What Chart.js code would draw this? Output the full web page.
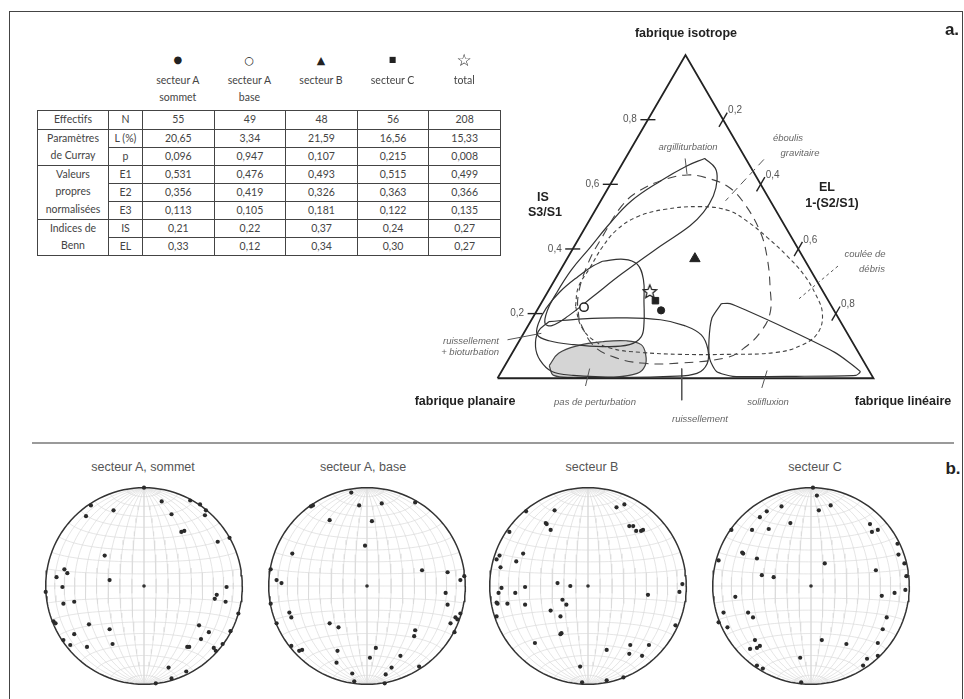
<!DOCTYPE html>
<html lang="fr">
<head>
<meta charset="utf-8">
<title>Fabriques - diagramme de Benn</title>
<script src="https://cdn.jsdelivr.net/npm/chart.js@4.4.1/dist/chart.umd.min.js"></script>
<style>
  body { margin: 0; background: #fff; }
  #page { position: relative; width: 964px; height: 699px; overflow: hidden; font-family: "Liberation Sans", Arial, sans-serif; color: #333; }
  #cadre { position: absolute; left: 9px; top: 11px; width: 952px; height: 700px; border: 1px solid #444; border-bottom: none; }
  #sep { position: absolute; left: 32px; top: 442px; width: 922px; height: 2px; background: #9a9a9a; }
  canvas { position: absolute; }
  .t { position: absolute; white-space: nowrap; transform: translate(-50%, -50%); line-height: 1; z-index: 2; }
  .t.r { transform: translate(-100%, -50%); }
  .vx { font-weight: bold; font-size: 12.5px; color: #222; }
  .champ { font-style: italic; font-size: 9.5px; color: #666; }
  .panneau { font-weight: bold; font-size: 17px; color: #222; }
  .titre { font-size: 12.5px; color: #555; }
  .leg { font-family: Lato, "Liberation Sans", sans-serif; font-size: 10.5px; color: #444; }
  .sym { font-family: "DejaVu Sans", sans-serif; color: #222; }
  table { position: absolute; left: 37px; top: 110px; border-collapse: collapse; font-family: Lato, "Liberation Sans", sans-serif; font-size: 10.5px; color: #444; table-layout: fixed; }
  td { border: 1.5px solid #444; text-align: center; padding: 0; height: 16.9px; line-height: 16.9px; }
  td.groupe { line-height: 17.6px; }
</style>
</head>
<body>
<div id="page">
  <div id="cadre"></div>
  <div id="sep"></div>
  <table id="tab"></table>
  <canvas id="ternaire" width="580" height="440" style="left:380px;top:0px"></canvas>
  <canvas id="net1" width="220" height="220" style="left:34px;top:476px"></canvas>
  <canvas id="net2" width="220" height="220" style="left:257px;top:476px"></canvas>
  <canvas id="net3" width="220" height="220" style="left:478px;top:476px"></canvas>
  <canvas id="net4" width="220" height="220" style="left:701px;top:476px"></canvas>
</div>
<script>
// ---- données du tableau ----
const secteurs = ['secteur A\nsommet', 'secteur A\nbase', 'secteur B', 'secteur C', 'total'];
const effectifs = [55, 49, 48, 56, 208];
const currayL = [20.65, 3.34, 21.59, 16.56, 15.33];
const currayP = [0.096, 0.947, 0.107, 0.215, 0.008];
const e1 = [0.531, 0.476, 0.493, 0.515, 0.499];
const e2 = [0.356, 0.419, 0.326, 0.363, 0.366];
const e3 = [0.113, 0.105, 0.181, 0.122, 0.135];
const indiceIS = [0.21, 0.22, 0.37, 0.24, 0.27];
const indiceEL = [0.33, 0.12, 0.34, 0.30, 0.27];
const ternTicks = [0.2, 0.4, 0.6, 0.8];

// ---- champs du diagramme de Benn, en [IS, EL] ----
const argilliturbation = [[0.680,0.211],[0.650,0.254],[0.614,0.277],[0.564,0.292],[0.513,0.291],[0.472,0.276],[0.409,0.229],[0.323,0.169],[0.252,0.127],[0.193,0.092],[0.163,0.063],[0.169,0.042],[0.208,0.028],[0.261,0.025],[0.335,0.029],[0.404,0.044],[0.478,0.059],[0.549,0.082],[0.611,0.129],[0.656,0.174]];
const ruissBioturb = [[0.362,0.098],[0.368,0.152],[0.353,0.195],[0.306,0.235],[0.237,0.271],[0.169,0.305],[0.128,0.318],[0.104,0.299],[0.098,0.230],[0.104,0.149],[0.116,0.079],[0.134,0.039],[0.169,0.024],[0.217,0.021],[0.267,0.032],[0.315,0.057],[0.347,0.080]];
const ruissellement = [[0.175,0.049],[0.184,0.135],[0.187,0.237],[0.181,0.343],[0.163,0.416],[0.134,0.475],[0.089,0.515],[0.045,0.535],[0.015,0.523],[0.006,0.456],[0.003,0.328],[0.009,0.197],[0.021,0.134],[0.056,0.085],[0.098,0.052],[0.145,0.036]];
const pasPerturbation = [[0.039,0.118],[0.077,0.124],[0.101,0.164],[0.113,0.222],[0.116,0.285],[0.104,0.330],[0.074,0.357],[0.039,0.373],[0.015,0.364],[0.003,0.303],[0.003,0.212],[0.009,0.145]];
const solifluxion = [[0.231,0.480],[0.187,0.477],[0.119,0.503],[0.059,0.535],[0.021,0.572],[0.006,0.623],[0.006,0.791],[0.009,0.949],[0.021,0.954],[0.080,0.857],[0.154,0.691],[0.208,0.562],[0.231,0.503]];
const couleeDebris = [[0.223,0.096],[0.282,0.074],[0.341,0.075],[0.407,0.076],[0.460,0.088],[0.499,0.121],[0.522,0.181],[0.531,0.272],[0.519,0.355],[0.484,0.424],[0.436,0.499],[0.380,0.579],[0.320,0.655],[0.261,0.715],[0.202,0.763],[0.142,0.782],[0.104,0.760],[0.080,0.702],[0.074,0.577],[0.074,0.448],[0.080,0.341],[0.092,0.258],[0.119,0.194],[0.163,0.140]];
const eboulis = [[0.178,0.128],[0.252,0.088],[0.356,0.063],[0.439,0.060],[0.534,0.064],[0.579,0.086],[0.614,0.135],[0.629,0.190],[0.620,0.246],[0.591,0.320],[0.537,0.390],[0.451,0.474],[0.371,0.532],[0.282,0.584],[0.202,0.624],[0.142,0.628],[0.095,0.610],[0.065,0.581],[0.047,0.461],[0.047,0.358],[0.068,0.270],[0.104,0.201]];
// traits de rappel des étiquettes
const rappels = [
  [[0.677,0.370],[0.549,0.332]],
  [[0.347,0.732],[0.246,0.679]],
  [[0.680,0.159],[0.632,0.188]],
  [[0.119,-0.033],[0.139,0.047]],
  [[0.030,0.230],[-0.024,0.246]],
  [[0.030,0.475],[-0.068,0.524]],
  [[0.024,0.705],[-0.030,0.718]]
];

// ---- stéréogrammes (projection normalisée, rayon 1) ----
const netSommet = [[0.00,1.00],[-0.54,0.82],[-0.31,0.77],[-0.59,0.71],[0.18,0.86],[0.28,0.73],[0.47,0.87],[0.57,0.83],[0.63,0.77],[0.62,0.72],[0.38,0.55],[0.41,0.56],[0.75,0.45],[0.87,0.49],[-0.40,0.31],[-0.81,0.17],[-0.78,0.13],[-0.89,0.09],[-0.83,-0.01],[-1.00,-0.06],[-0.82,-0.18],[-0.71,-0.16],[-0.35,0.06],[0.84,-0.01],[0.74,-0.09],[0.72,-0.13],[0.83,-0.16],[0.96,-0.28],[-0.92,-0.36],[-0.90,-0.38],[-0.56,-0.39],[-0.71,-0.49],[-0.35,-0.44],[-0.82,-0.55],[-0.75,-0.60],[-0.58,-0.62],[-0.32,-0.59],[0.56,-0.40],[0.66,-0.47],[0.58,-0.54],[0.88,-0.46],[0.44,-0.62],[0.46,-0.62],[0.71,-0.63],[0.73,-0.66],[0.80,-0.59],[0.25,-0.83],[0.43,-0.87],[0.28,-0.94],[0.12,-0.99]];
const netBase = [[-0.16,0.95],[-0.08,0.82],[0.15,0.84],[0.49,0.85],[-0.57,0.81],[-0.55,0.82],[-0.38,0.67],[0.05,0.66],[-0.02,0.41],[-0.76,0.33],[0.56,0.16],[0.82,0.14],[0.99,0.10],[0.95,0.06],[-0.92,0.06],[-0.87,0.03],[-0.98,0.17],[0.80,-0.07],[0.82,-0.19],[-0.98,-0.18],[-0.79,-0.27],[-0.77,-0.32],[-0.92,-0.38],[-0.38,-0.38],[-0.29,-0.42],[0.95,-0.28],[0.90,-0.32],[0.92,-0.34],[0.85,-0.38],[0.89,-0.47],[0.49,-0.45],[0.48,-0.51],[-0.77,-0.61],[-0.69,-0.66],[-0.66,-0.65],[-0.30,-0.66],[0.09,-0.63],[0.03,-0.73],[-0.31,-0.78],[0.34,-0.71],[0.25,-0.83],[0.53,-0.82],[-0.15,-0.89],[0.19,-0.90],[-0.13,-0.97],[0.18,-0.99]];
const netB = [[-0.34,0.77],[-0.63,0.76],[0.29,0.80],[0.37,0.83],[-0.43,0.64],[-0.42,0.63],[-0.38,0.57],[0.42,0.61],[0.46,0.61],[0.49,0.56],[0.54,0.56],[0.56,0.57],[-0.80,0.55],[-0.66,0.33],[-0.90,0.31],[-0.73,0.25],[-0.89,0.19],[-0.93,0.27],[-0.31,0.03],[-0.18,0.00],[-0.64,-0.01],[-0.88,-0.02],[-0.91,-0.07],[-0.74,-0.07],[-0.93,-0.17],[-0.92,-0.18],[-0.82,-0.18],[-0.64,-0.19],[-0.26,-0.14],[-0.22,-0.19],[-0.93,-0.31],[-0.38,-0.25],[-0.28,-0.31],[-0.27,-0.48],[-0.28,-0.49],[-0.54,-0.58],[0.61,-0.09],[0.96,0.02],[0.93,-0.06],[0.89,-0.40],[0.43,-0.60],[0.62,-0.60],[0.19,-0.65],[0.42,-0.69],[0.55,-0.71],[-0.08,-0.82],[-0.06,-0.98],[0.19,-0.96],[0.36,-0.93]];
const netC = [[0.02,1.00],[0.06,0.92],[0.20,0.82],[0.08,0.77],[-0.30,0.81],[-0.45,0.76],[-0.52,0.70],[-0.21,0.64],[-0.43,0.58],[-0.60,0.57],[-0.81,0.57],[0.60,0.63],[0.62,0.55],[0.68,0.57],[-0.70,0.34],[-0.69,0.33],[-0.55,0.28],[-0.94,0.26],[0.88,0.43],[0.89,0.32],[0.95,0.23],[0.97,0.10],[0.96,-0.04],[0.14,0.23],[0.66,0.16],[-0.50,0.11],[-0.38,0.09],[0.85,-0.07],[0.72,-0.10],[-0.77,-0.11],[-0.89,-0.27],[-0.64,-0.27],[-0.59,-0.32],[-0.85,-0.42],[-0.94,-0.37],[0.77,-0.32],[0.73,-0.44],[0.68,-0.58],[0.11,-0.55],[0.36,-0.59],[-0.57,-0.55],[-0.62,-0.64],[-0.55,-0.63],[-0.52,-0.61],[0.57,-0.74],[0.68,-0.71],[0.53,-0.81],[-0.11,-0.73],[-0.55,-0.81],[-0.49,-0.84],[-0.10,-0.98]];
const nets = [['secteur A, sommet', netSommet], ['secteur A, base', netBase], ['secteur B', netB], ['secteur C', netC]];

// format français
const fr = (v, d) => v.toFixed(d).replace('.', ',');
const page = document.getElementById('page');

function texte(txt, x, y, cls) {
  const d = document.createElement('div');
  d.className = 't ' + cls;
  d.style.left = x + 'px';
  d.style.top = y + 'px';
  d.textContent = txt;
  page.appendChild(d);
}

// ---- tableau ----
const lignes = [
  {groupe: ['Effectifs'], sous: ['N'], vals: [effectifs.map(String)]},
  {groupe: ['Paramètres', 'de Curray'], sous: ['L (%)', 'p'], vals: [currayL.map(v => fr(v, 2)), currayP.map(v => fr(v, 3))]},
  {groupe: ['Valeurs', 'propres', 'normalisées'], sous: ['E1', 'E2', 'E3'], vals: [e1, e2, e3].map(a => a.map(v => fr(v, 3)))},
  {groupe: ['Indices de', 'Benn'], sous: ['IS', 'EL'], vals: [indiceIS, indiceEL].map(a => a.map(v => fr(v, 2)))}
];
let html = '<colgroup><col style="width:71px"><col style="width:34px">' + '<col style="width:71.6px">'.repeat(5) + '</colgroup>';
lignes.forEach(l => {
  l.sous.forEach((s, k) => {
    html += '<tr>';
    if (k === 0) html += '<td class="groupe" rowspan="' + l.sous.length + '">' + l.groupe.join('<br>') + '</td>';
    html += '<td>' + s + '</td>' + l.vals[k].map(v => '<td>' + v + '</td>').join('') + '</tr>';
  });
});
document.getElementById('tab').innerHTML = html;

// ---- légende au-dessus du tableau ----
const colX = [177.8, 249.4, 321, 392.6, 464.2];
const symboles = [['●', 10], ['○', 11], ['▲', 11], ['■', 8], ['☆', 17]];
secteurs.forEach((s, i) => {
  texte(symboles[i][0], colX[i], 60, 'sym');
  page.lastChild.style.fontSize = symboles[i][1] + 'px';
  s.split('\n').forEach((ligne, k) => texte(ligne, colX[i], 80 + k * 17, 'leg'));
});

// ---- diagramme ternaire ----
const tern = ([is, el]) => ({x: el + is / 2, y: is});
const boucle = pts => pts.concat([pts[0]]).map(tern);

function etoile(size) {
  const c = document.createElement('canvas');
  c.width = c.height = size;
  const g = c.getContext('2d');
  const m = size / 2, R = size / 2 - 1, r = R * 0.45;
  g.beginPath();
  for (let i = 0; i < 10; i++) {
    const a = -Math.PI / 2 + i * Math.PI / 5, rr = i % 2 ? r : R;
    g.lineTo(m + rr * Math.cos(a), m + 1 + rr * Math.sin(a));
  }
  g.closePath();
  g.fillStyle = '#fff';
  g.fill();
  g.lineWidth = 1.3;
  g.strokeStyle = '#222';
  g.stroke();
  return c;
}

const marqueurs = [
  {pointStyle: 'circle', pointRadius: 3.6, backgroundColor: '#222', borderColor: '#222'},
  {pointStyle: 'circle', pointRadius: 4.2, backgroundColor: '#fff', borderColor: '#222', borderWidth: 1.5},
  {pointStyle: 'triangle', pointRadius: 6, backgroundColor: '#222', borderColor: '#222'},
  {pointStyle: 'rect', pointRadius: 4.6, backgroundColor: '#222', borderColor: '#222'},
  {pointStyle: etoile(16), pointRadius: 8}
];

const ternDatasets = [];
secteurs.forEach((s, i) => {
  ternDatasets.push(Object.assign({label: s, data: [tern([indiceIS[i], indiceEL[i]])], showLine: false, order: 0}, marqueurs[i]));
});
const trait = (data, extra) => Object.assign({data, showLine: true, pointRadius: 0, borderColor: '#333', borderWidth: 1.2, tension: 0.4, order: 1}, extra || {});
ternDatasets.push(trait(boucle(argilliturbation)));
ternDatasets.push(trait(boucle(ruissBioturb)));
ternDatasets.push(trait(boucle(ruissellement)));
ternDatasets.push(trait(boucle(solifluxion), {tension: 0.2}));
ternDatasets.push(trait(boucle(couleeDebris), {borderDash: [4, 3], borderWidth: 1.1, borderColor: '#444'}));
ternDatasets.push(trait(boucle(eboulis), {borderDash: [9, 6], borderWidth: 1.1, borderColor: '#444'}));
ternDatasets.push(trait(boucle(pasPerturbation), {fill: 'shape', backgroundColor: '#d5d5d5', borderColor: '#444', order: 5}));
// triangle et graduations
ternDatasets.push(trait([[0, 0], [1, 0], [0, 1], [0, 0]].map(tern), {tension: 0, borderWidth: 1.8, borderColor: '#222', order: 2}));
ternTicks.forEach(t => {
  ternDatasets.push(trait([[t, -0.02], [t, 0.02]].map(tern), {tension: 0, borderWidth: 1.4, borderColor: '#222'}));
  ternDatasets.push(trait([[1 - t - 0.022, t], [1 - t + 0.022, t]].map(tern), {tension: 0, borderWidth: 1.4, borderColor: '#222'}));
});
rappels.forEach((r, i) => {
  const dash = i === 0 ? [8, 5] : (i === 1 ? [3, 3] : []);
  ternDatasets.push(trait(r.map(tern), {tension: 0, borderWidth: 1, borderColor: '#555', borderDash: dash}));
});

const etiquettesTern = {
  id: 'etiquettesTern',
  afterDatasetsDraw(chart) {
    const {ctx, scales: {x, y}} = chart;
    ctx.save();
    ctx.font = '10px "Liberation Sans", Arial';
    ctx.fillStyle = '#555';
    ctx.textBaseline = 'middle';
    ternTicks.forEach(t => {
      const g = tern([t, 0]);
      ctx.textAlign = 'right';
      ctx.fillText(fr(t, 1), x.getPixelForValue(g.x) - 11, y.getPixelForValue(g.y));
      const d = tern([1 - t, t]);
      ctx.textAlign = 'left';
      ctx.fillText(fr(t, 1), x.getPixelForValue(d.x) + 5, y.getPixelForValue(d.y) - 9);
    });
    ctx.restore();
  }
};

new Chart(document.getElementById('ternaire'), {
  type: 'scatter',
  data: {datasets: ternDatasets},
  options: {
    responsive: false, animation: false, events: [],
    layout: {padding: 0},
    plugins: {legend: {display: false}, tooltip: {enabled: false}},
    scales: {
      x: {type: 'linear', min: -0.2887, max: 1.2062, display: false},
      y: {type: 'linear', min: -0.1632, max: 1.1424, display: false}
    }
  },
  plugins: [etiquettesTern]
});

// textes du diagramme ternaire
texte('fabrique isotrope', 686, 33, 'vx');
texte('fabrique planaire', 465, 401, 'vx');
texte('fabrique linéaire', 903, 401, 'vx');
texte('IS', 543, 197, 'vx');
texte('S3/S1', 545, 212, 'vx');
texte('EL', 827, 187, 'vx');
texte('1-(S2/S1)', 832, 203, 'vx');
texte('a.', 952, 29, 'panneau');
texte('b.', 953, 468, 'panneau');
texte('argilliturbation', 688, 147, 'champ');
texte('éboulis', 788, 138, 'champ');
texte('gravitaire', 800, 153, 'champ');
texte('coulée de', 865, 254, 'champ');
texte('débris', 872, 269, 'champ');
texte('ruissellement', 499, 341, 'champ r');
texte('+ bioturbation', 499, 352, 'champ r');
texte('pas de perturbation', 595, 402, 'champ');
texte('ruissellement', 700, 419, 'champ');
texte('solifluxion', 768, 402, 'champ');

// ---- stéréogrammes ----
function eqArea(x, y, z) {
  const k = 1 / Math.sqrt(1 - z);
  return {x: x * k, y: y * k};
}
const grille = [];
const rad = Math.PI / 180;
for (let d = 10; d < 180; d += 10) {
  const pts = [];
  for (let a = 0; a <= 180; a += 4) pts.push(eqArea(Math.sin(a * rad) * Math.cos(d * rad), Math.cos(a * rad), -Math.sin(a * rad) * Math.sin(d * rad)));
  grille.push(pts);
}
for (let lat = -80; lat <= 80; lat += 10) {
  const pts = [];
  for (let b = 0; b <= 180; b += 4) pts.push(eqArea(Math.cos(lat * rad) * Math.cos(b * rad), Math.sin(lat * rad), -Math.cos(lat * rad) * Math.sin(b * rad)));
  grille.push(pts);
}
const primitive = [];
for (let a = 0; a <= 360; a += 3) primitive.push({x: Math.cos(a * rad), y: Math.sin(a * rad)});

const titresX = [143, 363, 592, 815];
nets.forEach(([titre, pts], i) => {
  texte(titre, titresX[i], 467, 'titre');
  const ds = grille.map(g => ({data: g, showLine: true, pointRadius: 0, borderColor: '#dadada', borderWidth: 0.7, order: 3}));
  ds.push({data: primitive, showLine: true, pointRadius: 0, borderColor: '#333', borderWidth: 1.5, order: 1});
  ds.push({data: [{x: 0, y: 0}], pointRadius: 1.8, backgroundColor: '#333', borderWidth: 0, order: 0});
  ds.push({data: pts.map(([x, y]) => ({x, y})), pointRadius: 2.1, backgroundColor: '#2a2a2a', borderWidth: 0, order: 0});
  new Chart(document.getElementById('net' + (i + 1)), {
    type: 'scatter',
    data: {datasets: ds},
    options: {
      responsive: false, animation: false, events: [],
      layout: {padding: 0},
      plugins: {legend: {display: false}, tooltip: {enabled: false}},
      scales: {
        x: {type: 'linear', min: -1.0784, max: 1.0784, display: false},
        y: {type: 'linear', min: -1.0784, max: 1.0784, display: false}
      }
    }
  });
});
</script>
</body>
</html>
